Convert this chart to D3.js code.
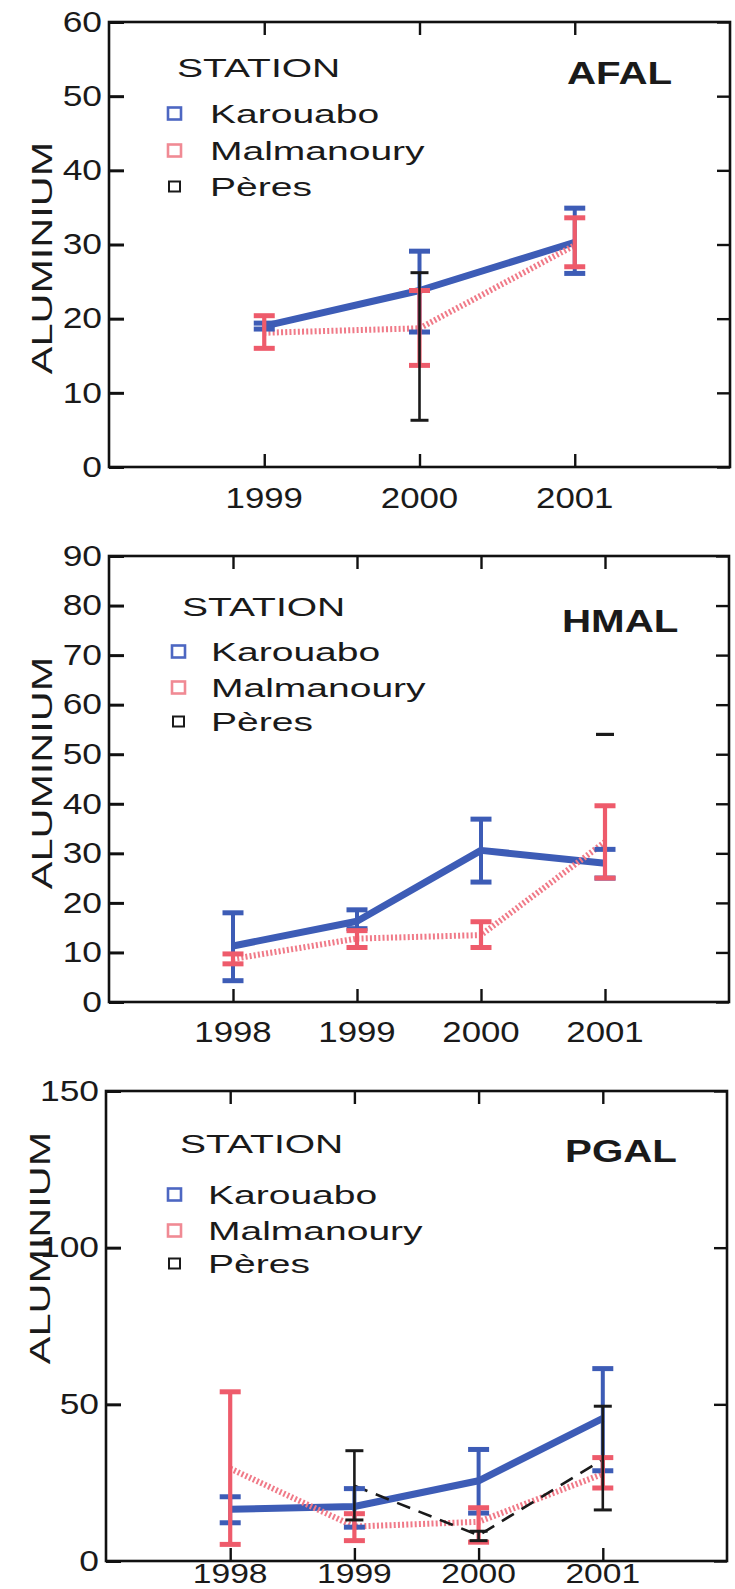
<!DOCTYPE html>
<html><head><meta charset="utf-8">
<script src="https://cdn.jsdelivr.net/npm/d3@7"></script>
<style>
html,body{margin:0;padding:0;background:#fff;}
svg{display:block;}
text{font-family:"Liberation Sans",Arial,Helvetica,sans-serif;fill:#1a1a1a;}
</style></head>
<body>
<script>
// ---------- DATA ----------
const stations = ["Karouabo", "Malmanoury", "Pères"];
const panelNames = ["AFAL", "HMAL", "PGAL"];
const yAxisTitle = "ALUMINIUM";
const legendTitle = "STATION";

// AFAL
const afalYears = [1999, 2000, 2001];
const afalKarouabo = [19.0, 23.8, 30.3];
const afalKarouaboLo = [18.6, 18.2, 26.1];
const afalKarouaboHi = [19.4, 29.1, 34.9];
const afalMalmanoury = [18.1, 18.7, 29.9];
const afalMalmanouryLo = [16.0, 13.7, 27.0];
const afalMalmanouryHi = [20.4, 23.8, 33.6];
const afalPeres = [null, 16.2, null];
const afalPeresLo = [null, 6.3, null];
const afalPeresHi = [null, 26.2, null];
const afalYTicks = [0, 10, 20, 30, 40, 50, 60];

// HMAL
const hmalYears = [1998, 1999, 2000, 2001];
const hmalKarouabo = [11.3, 16.3, 30.6, 28.0];
const hmalKarouaboLo = [4.3, 14.8, 24.2, 25.0];
const hmalKarouaboHi = [18.0, 18.6, 36.9, 30.8];
const hmalMalmanoury = [8.7, 12.8, 13.5, 32.3];
const hmalMalmanouryLo = [7.7, 11.0, 11.0, 25.0];
const hmalMalmanouryHi = [9.7, 14.4, 16.2, 39.6];
const hmalPeres = [null, null, null, 54.0];
const hmalPeresLo = [null, null, null, 54.0];
const hmalPeresHi = [null, null, null, 54.0];
const hmalYTicks = [0, 10, 20, 30, 40, 50, 60, 70, 80, 90];

// PGAL
const pgalYears = [1998, 1999, 2000, 2001];
const pgalKarouabo = [16.5, 17.4, 25.6, 45.5];
const pgalKarouaboLo = [12.2, 10.8, 15.3, 28.8];
const pgalKarouaboHi = [20.5, 23.1, 35.6, 61.4];
const pgalMalmanoury = [29.5, 11.0, 12.5, 27.8];
const pgalMalmanouryLo = [5.3, 6.5, 6.0, 23.3];
const pgalMalmanouryHi = [54.0, 15.1, 17.0, 33.0];
const pgalPeres = [null, 24.0, 8.2, 32.4];
const pgalPeresLo = [null, 13.1, 6.5, 16.3];
const pgalPeresHi = [null, 35.2, 9.5, 49.4];
const pgalYTicks = [0, 50, 100, 150];

// ---------- BUILD ----------
function series(years, v, lo, hi){
  return years.map((yr,i)=>({year:yr, v:v[i], lo:lo[i], hi:hi[i]}));
}
const panels = [
  {name:panelNames[0], years:afalYears, xDomain:[1998,2002], yTicks:afalYTicks,
   data:[series(afalYears,afalKarouabo,afalKarouaboLo,afalKarouaboHi),
         series(afalYears,afalMalmanoury,afalMalmanouryLo,afalMalmanouryHi),
         series(afalYears,afalPeres,afalPeresLo,afalPeresHi)],
   L:{top:22,bottom:467,left:109,right:730, stX:177, stY:77, sqX:168, txX:210, legY:[123,160,196], tX:567, tY:84, axY:258, axX:52, xlY:508, xlF:29}},
  {name:panelNames[1], years:hmalYears, xDomain:[1997,2002], yTicks:hmalYTicks,
   data:[series(hmalYears,hmalKarouabo,hmalKarouaboLo,hmalKarouaboHi),
         series(hmalYears,hmalMalmanoury,hmalMalmanouryLo,hmalMalmanouryHi),
         series(hmalYears,hmalPeres,hmalPeresLo,hmalPeresHi)],
   L:{top:556,bottom:1002,left:109,right:729, stX:182, stY:616, sqX:172, txX:211, legY:[661,697,731], tX:562, tY:632, axY:773, axX:52, xlY:1042, xlF:29}},
  {name:panelNames[2], years:pgalYears, xDomain:[1997,2002], yTicks:pgalYTicks,
   data:[series(pgalYears,pgalKarouabo,pgalKarouaboLo,pgalKarouaboHi),
         series(pgalYears,pgalMalmanoury,pgalMalmanouryLo,pgalMalmanouryHi),
         series(pgalYears,pgalPeres,pgalPeresLo,pgalPeresHi)],
   L:{top:1091,bottom:1561,left:106,right:727, stX:180, stY:1153, sqX:168, txX:208, legY:[1204,1240,1273], tX:565, tY:1162, axY:1248, axX:50, xlY:1583, xlF:28}}
];

const colBlue = "#3d5cb6", colRed = "#ee5b6b", colRedLine = "#f07a88", colBlack = "#1a1a1a";
const legendCols = ["#4d67c2", "#f08a94", "#1a1a1a"];

const W = 735, H = 1589;
const svg = d3.select("body").append("svg").attr("width",W).attr("height",H);

function stretch(sel, f){
  sel.each(function(){
    const w = this.getComputedTextLength();
    d3.select(this).attr("textLength", w*f).attr("lengthAdjust","spacingAndGlyphs");
  });
}

panels.forEach(p=>{
  const L = p.L;
  const g = svg.append("g");
  const x = d3.scaleLinear().domain(p.xDomain).range([L.left, L.right]);
  const yMax = p.yTicks[p.yTicks.length-1];
  const y = d3.scaleLinear().domain([0,yMax]).range([L.bottom, L.top]);

  // frame
  g.append("rect").attr("x",L.left).attr("y",L.top).attr("width",L.right-L.left).attr("height",L.bottom-L.top)
    .attr("fill","none").attr("stroke","#111").attr("stroke-width",2.6);

  // axes
  const axL = g.append("g").attr("transform",`translate(${L.left},0)`)
    .call(d3.axisLeft(y).tickValues(p.yTicks).tickSizeInner(-15).tickSizeOuter(0).tickPadding(7).tickFormat(d3.format("d")));
  const axR = g.append("g").attr("transform",`translate(${L.right},0)`)
    .call(d3.axisRight(y).tickValues(p.yTicks).tickSizeInner(-13).tickSizeOuter(0).tickFormat(""));
  const axB = g.append("g").attr("transform",`translate(0,${L.bottom})`)
    .call(d3.axisBottom(x).tickValues(p.years).tickSizeInner(-13).tickSizeOuter(0).tickFormat(""));
  const axT = g.append("g").attr("transform",`translate(0,${L.top})`)
    .call(d3.axisTop(x).tickValues(p.years).tickSizeInner(-13).tickSizeOuter(0).tickFormat(""));
  [axL,axR,axB,axT].forEach(a=>{
    a.select(".domain").remove();
    a.selectAll(".tick line").attr("stroke","#111").attr("stroke-width",2.4);
  });
  axL.selectAll(".tick line").attr("stroke-width",3);
  axL.selectAll(".tick text").attr("font-size",29).attr("fill","#1a1a1a")
    .attr("font-family","Liberation Sans, Arial, sans-serif").call(stretch,1.22);

  // x labels
  g.selectAll(".xl").data(p.years).join("text").attr("class","xl")
    .attr("x",d=>x(d)).attr("y",L.xlY).attr("text-anchor","middle").attr("font-size",L.xlF)
    .text(d=>d).call(stretch,1.2);

  // y axis title
  g.append("text").attr("transform",`translate(${L.axX},${L.axY}) rotate(-90)`)
    .attr("text-anchor","middle").attr("font-size",30).text(yAxisTitle).call(stretch,1.38);

  // lines
  const line = d3.line().defined(d=>d.v!=null).x(d=>x(d.year)).y(d=>y(d.v));
  const lineStyles = [
    {stroke:colBlue, w:7, dash:null},
    {stroke:colRedLine, w:6, dash:"2,2.2"},
    {stroke:colBlack, w:2.6, dash:"14,9"}
  ];
  p.data.forEach((s,i)=>{
    const pts = s.filter(d=>d.v!=null);
    if(pts.length<2) return;
    const st = lineStyles[i];
    g.append("path").datum(s).attr("d",line).attr("fill","none")
      .attr("stroke",st.stroke).attr("stroke-width",st.w)
      .attr("stroke-dasharray",st.dash).attr("stroke-linejoin","round");
  });

  // error bars
  const ebStyles = [
    {c:colBlue, sw:4, cw:21, ch:5},
    {c:colRed, sw:4.2, cw:21, ch:5},
    {c:colBlack, sw:2.6, cw:18, ch:3}
  ];
  p.data.forEach((s,i)=>{
    const st = ebStyles[i];
    const pts = s.filter(d=>d.lo!=null);
    const eg = g.append("g");
    eg.selectAll(".stem").data(pts).join("line")
      .attr("x1",d=>x(d.year)).attr("x2",d=>x(d.year))
      .attr("y1",d=>y(d.lo)).attr("y2",d=>y(d.hi))
      .attr("stroke",st.c).attr("stroke-width",st.sw);
    ["lo","hi"].forEach(k=>{
      eg.selectAll(".cap"+k).data(pts).join("line")
        .attr("x1",d=>x(d.year)-st.cw/2).attr("x2",d=>x(d.year)+st.cw/2)
        .attr("y1",d=>y(d[k])).attr("y2",d=>y(d[k]))
        .attr("stroke",st.c).attr("stroke-width",st.ch);
    });
  });

  // legend
  g.append("text").attr("x",L.stX).attr("y",L.stY).attr("font-size",26).text(legendTitle).call(stretch,1.5);
  stations.forEach((s,i)=>{
    const by = L.legY[i];
    const sz = i===2 ? 11 : 13;
    g.append("rect").attr("x",L.sqX+(i===2?1:0)).attr("y",by-9-sz/2).attr("width",sz).attr("height",sz-1)
      .attr("fill","none").attr("stroke",legendCols[i]).attr("stroke-width",i===2?2:2.6);
    g.append("text").attr("x",L.txX).attr("y",by).attr("font-size",26).text(s).call(stretch,1.5);
  });

  // panel title
  g.append("text").attr("x",L.tX).attr("y",L.tY).attr("font-size",31).attr("font-weight","bold")
    .text(p.name).call(stretch,1.3);
});
</script>
</body></html>
